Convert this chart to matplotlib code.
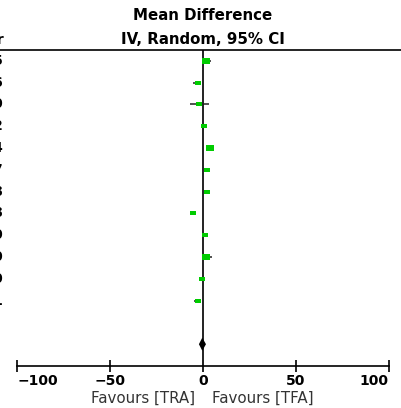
import matplotlib
matplotlib.use("Agg")
import matplotlib.pyplot as plt
from matplotlib.transforms import blended_transform_factory

# ---- data ----
years = ["2015", "2016", "2010", "2012", "2014", "2017",
         "2018", "2018", "2010", "2010", "2010", "2011"]
md = [1.8, -2.9, -2.0, 0.7, 3.9, 2.3, 2.3, -5.5, 1.2, 1.8, -0.4, -2.7]
ci_lo = [-0.5, -5.2, -7.0, 0.2, 2.0, 0.5, 1.8, -6.0, 0.7, 0.2, -0.8, -4.7]
ci_hi = [4.5, -1.4, 3.4, 1.2, 6.1, 3.5, 2.8, -5.0, 1.7, 4.8, 0.0, -1.3]
weight = [6, 5, 5, 4, 6, 5, 4, 5, 5, 6, 5, 5]
pooled = (-0.4, -2.2, 1.6)
xticks = [-100, -50, 0, 50, 100]
xticklabels = ["\u2212100", "\u221250", "0", "50", "100"]

W, H = 401, 408
fig = plt.figure(figsize=(W / 100, H / 100), dpi=100)
ax = fig.add_axes([0, (H - 366) / H, 1, (366 - 50) / H])

# x mapping: 0 -> px 203, 1.857 px per unit
scale = 1.857
ax.set_xlim((0 - 203) / scale, (W - 203) / scale)
ax.set_ylim(15, 0.5)

rows = list(range(1, len(md) + 1))
green = "#00cc00"
rect = [(-1.4, -1), (1.4, -1), (1.4, 1), (-1.4, 1), (-1.4, -1)]
for r, m, lo, hi, w in zip(rows, md, ci_lo, ci_hi, weight):
    ax.plot([lo, hi], [r, r], color="#222222", lw=1.1, solid_capstyle="butt", zorder=3)
    ax.plot([m], [r], marker=rect, markersize=w * 0.95, color=green,
            markeredgewidth=0, linestyle="none", zorder=4)

# pooled diamond
est, plo, phi = pooled
yd = 14
h = 0.3
ax.fill([plo, est, phi, est], [yd, yd - h, yd, yd + h], color="black", lw=0, zorder=5)

ax.axvline(0, color="#222222", lw=1.4, zorder=2)

for s in ["left", "right"]:
    ax.spines[s].set_visible(False)
ax.spines["top"].set_linewidth(1.2)
ax.spines["bottom"].set_linewidth(1.2)
ax.spines["bottom"].set_bounds(-100, 100)
ax.set_yticks([])
ax.set_xticks(xticks)
ax.set_xticklabels(xticklabels, fontsize=10, fontweight="bold")
ax.tick_params(axis="x", direction="inout", length=9, width=1.2, pad=1)
labs = ax.get_xticklabels()
labs[0].set_ha("left")
labs[-1].set_ha("right")

# left clipped column text (cut off at the left edge as in the reference)
tr = blended_transform_factory(fig.transFigure, ax.transData)
for r, yv in zip(rows, years):
    ax.text(4 / W, r, yv, transform=tr, ha="right", va="center",
            fontsize=10, fontweight="bold", color="black")
fig.text(4 / W, 1 - 40 / H, "Year", ha="right", va="center",
         fontsize=10, fontweight="bold")

fig.text(203 / W, 1 - 16 / H, "Mean Difference", ha="center", va="center",
         fontsize=10.8, fontweight="bold")
fig.text(203 / W, 1 - 39 / H, "IV, Random, 95% CI", ha="center", va="center",
         fontsize=10.8, fontweight="bold")

fig.text(195 / W, 1 - 398 / H, "Favours [TRA]", ha="right", va="center",
         fontsize=10.8, color="#333333")
fig.text(212 / W, 1 - 398 / H, "Favours [TFA]", ha="left", va="center",
         fontsize=10.8, color="#333333")

fig.savefig("out.png", dpi=100)
